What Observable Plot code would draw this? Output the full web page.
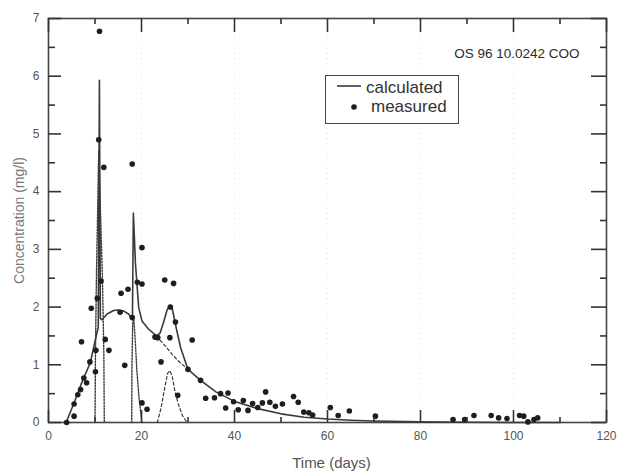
<!DOCTYPE html>
<html>
<head>
<meta charset="utf-8">
<script src="https://cdn.jsdelivr.net/npm/d3@7"></script>
<script src="https://cdn.jsdelivr.net/npm/@observablehq/plot@0.6"></script>
<style>
  body { margin: 0; background: #fff; }
  #wrap { position: relative; width: 617px; height: 472px; overflow: hidden; font-family: "Liberation Sans", Arial, sans-serif; }
  #legend { position: absolute; left: 325px; top: 75px; width: 132px; height: 47px; border: 1.5px solid #444; background: #fff; color: #333; font-size: 17px; }
  #legend .row { position: absolute; left: 0; white-space: nowrap; line-height: 1; }
  #legend svg { position: absolute; }
</style>
</head>
<body>
<div id="wrap"></div>
<script>
// ---- data ----
const titleText = "OS 96 10.0242 COO";
const xLabel = "Time (days)";
const yLabel = "Concentration (mg/l)";
const legendLabels = ["calculated", "measured"];

const xMajorTicks = [0, 20, 40, 60, 80, 100, 120];
const xMinorTicks = [10, 30, 50, 70, 90, 110];
const yMajorTicks = [0, 1, 2, 3, 4, 5, 6, 7];
const yMinorTicks = [0.5, 1.5, 2.5, 3.5, 4.5, 5.5, 6.5];

// calculated (solid)
const calcX = [3.8, 5.4, 7, 9, 10.4, 10.7, 10.95, 11.15, 11.5, 12.6, 14, 15, 16.2, 17.2, 18.05, 18.25, 18.7, 19.4, 20.1, 21.5, 23.2, 24, 24.8, 25.5, 26.1, 26.6, 27.3, 28.4, 30, 32.7, 36, 39.9, 45, 50, 55, 60, 65, 70, 80, 90, 100, 110];
const calcY = [0, 0.32, 0.66, 1.04, 1.55, 1.65, 5.93, 1.8, 1.78, 1.88, 1.94, 1.95, 1.93, 1.88, 1.8, 3.63, 2.75, 1.99, 1.76, 1.62, 1.5, 1.55, 1.75, 1.95, 2.03, 1.98, 1.7, 1.3, 0.92, 0.73, 0.53, 0.37, 0.24, 0.15, 0.09, 0.06, 0.04, 0.025, 0.01, 0.005, 0, 0];

// base component continued under the third pulse (dashed)
const baseX = [23.2, 24.5, 25.5, 26.6, 28, 30];
const baseY = [1.5, 1.38, 1.29, 1.18, 1.06, 0.92];

// individual pulses (dotted / dashed)
const pulse1X = [10.0, 10.1, 10.3, 10.8, 11.6, 11.9, 12.0];
const pulse1Y = [0, 1.2, 2.5, 4.7, 2.5, 1.2, 0];
const pulse2X = [17.9, 17.95, 18.1, 18.3, 18.6, 19.0, 19.5, 20.1];
const pulse2Y = [0, 1.0, 1.7, 1.85, 1.5, 0.9, 0.4, 0];
const pulse3X = [23.4, 24.2, 25.0, 25.6, 26.1, 26.6, 27.3, 28.0, 28.8, 29.8];
const pulse3Y = [0, 0.25, 0.6, 0.85, 0.9, 0.8, 0.5, 0.3, 0.12, 0];

// measured points
const measX = [10.97, 10.8, 11.9, 18.0, 20.1, 20.1, 19.1, 25.0, 26.9, 15.6, 17.1, 10.5, 9.2, 11.3, 15.4, 18.0, 7.1, 12.2, 10.2, 13.0, 8.9, 16.4, 10.1, 7.6, 8.2, 6.9, 6.3, 5.5, 5.5, 3.9,
  22.9, 23.5, 24.2, 26.1, 26.2, 27.3, 30.9, 30.0, 27.8, 20.1, 21.2, 32.7, 33.8, 35.7, 37.0, 38.6, 38.1, 39.8, 40.8, 41.9, 42.9, 43.9, 45.0, 46.0, 46.7, 47.6, 48.8, 50.3, 52.7, 53.7, 54.9, 56.0, 56.8,
  60.6, 62.3, 64.7, 70.3, 87.0, 89.5, 91.5, 95.2, 96.8, 98.6, 101.3, 102.2, 103.1, 104.4, 105.2];
const measY = [6.78, 4.90, 4.42, 4.48, 3.03, 2.40, 2.43, 2.47, 2.41, 2.24, 2.31, 2.15, 1.98, 2.45, 1.91, 1.82, 1.40, 1.44, 1.25, 1.25, 1.05, 0.99, 0.88, 0.77, 0.69, 0.57, 0.48, 0.32, 0.11, 0.0,
  1.48, 1.47, 1.05, 1.47, 2.0, 1.74, 1.43, 0.92, 0.47, 0.34, 0.23, 0.73, 0.42, 0.43, 0.50, 0.51, 0.25, 0.36, 0.22, 0.38, 0.21, 0.33, 0.26, 0.34, 0.53, 0.35, 0.28, 0.32, 0.45, 0.35, 0.18, 0.17, 0.13,
  0.26, 0.12, 0.20, 0.11, 0.05, 0.05, 0.12, 0.12, 0.08, 0.07, 0.12, 0.11, 0.01, 0.05, 0.08];

// ---- build tables ----
const zip = (xs, ys) => xs.map((x, i) => ({x, y: ys[i]}));
const calc = zip(calcX, calcY), base = zip(baseX, baseY);
const p1 = zip(pulse1X, pulse1Y), p2 = zip(pulse2X, pulse2Y), p3 = zip(pulse3X, pulse3Y);
const meas = zip(measX, measY);

const ink = "#3a3a3a";
const axisStroke = "#333";
const W = 617, H = 472, mL = 48, mR = 11, mT = 18, mB = 50;
const innerW = W - mL - mR, innerH = H - mT - mB;

// inward ticks: frame-spanning rules trimmed by insets so only a short piece remains at the edge
const tickStyle = {stroke: axisStroke, strokeWidth: 1.6};
const inX = (ticks, side, len) => Plot.ruleX(ticks, side === "bottom" ? {insetTop: innerH - len, ...tickStyle} : {insetBottom: innerH - len, ...tickStyle});
const inY = (ticks, side, len) => Plot.ruleY(ticks, side === "left" ? {insetRight: innerW - len, ...tickStyle} : {insetLeft: innerW - len, ...tickStyle});

const chart = Plot.plot({
  width: W, height: H, marginLeft: mL, marginRight: mR, marginTop: mT, marginBottom: mB,
  style: {background: "#fff", fontFamily: "'Liberation Sans', Arial, sans-serif"},
  x: {domain: [0, 120]},
  y: {domain: [0, 7]},
  marks: [
    Plot.gridX(xMajorTicks.slice(1, -1), {stroke: "#999", strokeOpacity: 0.25, strokeDasharray: "1,4"}),
    Plot.axisX(xMajorTicks, {anchor: "bottom", tickSize: 0, tickPadding: 9, fontSize: 12, color: "#555", label: null, tickFormat: d3.format("d")}),
    Plot.axisY(yMajorTicks, {anchor: "left", tickSize: 0, tickPadding: 9, fontSize: 12, color: "#555", label: null, tickFormat: d3.format("d")}),
    Plot.frame({stroke: "#444", strokeWidth: 1.6}),
    // component curves
    Plot.line(p1, {x: "x", y: "y", stroke: ink, strokeWidth: 1.4, strokeDasharray: "1.5,1.5"}),
    Plot.line(p2, {x: "x", y: "y", stroke: ink, strokeWidth: 1.4, strokeDasharray: "1.5,1.5"}),
    Plot.line(p3, {x: "x", y: "y", stroke: ink, strokeWidth: 1.2, strokeDasharray: "3,2.5"}),
    Plot.line(base, {x: "x", y: "y", stroke: ink, strokeWidth: 1.2, strokeDasharray: "3,2.5"}),
    // calculated
    Plot.line(calc, {x: "x", y: "y", stroke: ink, strokeWidth: 1.6}),
    // measured
    Plot.dot(meas, {x: "x", y: "y", r: 2.8, fill: "#1e1e1e", stroke: "none"}),
    // inward ticks on all four sides
    inX(xMajorTicks, "bottom", 12),
    inX(xMinorTicks, "bottom", 5),
    inX(xMajorTicks, "top", 14),
    inX(xMinorTicks, "top", 6),
    inY(yMajorTicks, "left", 13),
    inY(yMinorTicks, "left", 7),
    inY(yMajorTicks, "right", 15),
    inY(yMinorTicks, "right", 6),
    // texts
    Plot.text([titleText], {frameAnchor: "top-right", dx: -27, dy: 30, textAnchor: "end", fontSize: 13.5, fill: "#2a2a2a"}),
    Plot.text([xLabel], {frameAnchor: "bottom", dx: 4, dy: 45, fontSize: 15, fill: "#555"}),
    Plot.text([yLabel], {frameAnchor: "left", dx: -29, rotate: -90, textAnchor: "middle", fontSize: 14, fill: "#777"})
  ]
});

const wrap = document.getElementById("wrap");
wrap.appendChild(chart);

// legend (inside the plot box)
const legend = document.createElement("div");
legend.id = "legend";
legend.innerHTML = `
  <svg width="26" height="6" style="left:10px;top:7px"><line x1="1" y1="3" x2="25" y2="3" stroke="${ink}" stroke-width="1.6"/></svg>
  <div class="row" style="left:40px;top:3px">${legendLabels[0]}</div>
  <svg width="8" height="8" style="left:24px;top:27px"><circle cx="4" cy="4" r="2.8" fill="#1e1e1e"/></svg>
  <div class="row" style="left:45px;top:22px">${legendLabels[1]}</div>`;
wrap.appendChild(legend);
</script>
</body>
</html>
